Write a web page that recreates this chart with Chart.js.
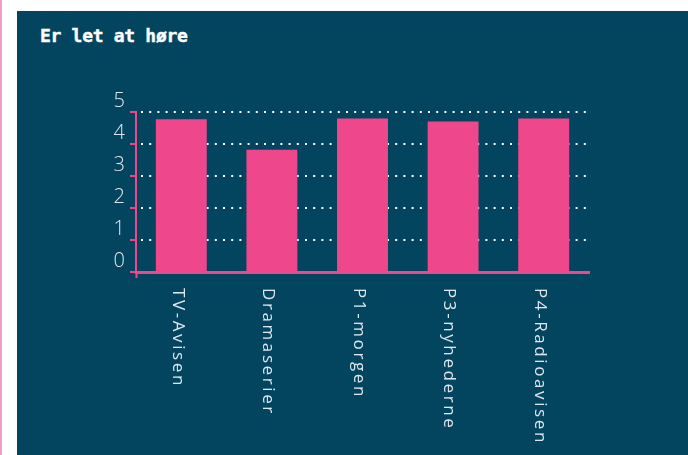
<!DOCTYPE html>
<html>
<head>
<meta charset="utf-8">
<script src="https://cdn.jsdelivr.net/npm/chart.js@4"></script>
<style>
  html, body { margin: 0; padding: 0; background: #ffffff; width: 688px; height: 455px; overflow: hidden; }
  #edge { position: absolute; left: 0; top: 0; width: 2px; height: 455px; background: #f59cc5; }
  #panel { position: absolute; left: 17px; top: 11px; width: 671px; height: 444px; background: #03445f; }
  #title { position: absolute; left: 40px; top: 26px; font-family: "DejaVu Sans Mono", monospace; font-weight: bold;
           font-size: 18px; letter-spacing: -0.3px; line-height: 20px; color: #ffffff; white-space: nowrap;
           -webkit-text-stroke: 0.4px #ffffff; }
  #c { position: absolute; left: 0; top: 0; }
</style>
</head>
<body>
<div id="edge"></div>
<div id="panel"></div>
<div id="title">Er let at høre</div>
<canvas id="c" width="688" height="455"></canvas>
<script>
const categories = ['TV-Avisen', 'Dramaserier', 'P1-morgen', 'P3-nyhederne', 'P4-Radioavisen'];
const values = [4.77, 3.82, 4.8, 4.7, 4.8];
const yMin = 0, yMax = 5, yStep = 1;

const PINK = '#ef478b';
const LABEL = '#dde8ee';

const rotatedLabels = {
  id: 'rotatedLabels',
  afterDraw(chart) {
    const xs = chart.scales.x;
    const ctx = chart.ctx;
    ctx.save();
    ctx.font = '400 17px "Open Sans"';
    ctx.fillStyle = LABEL;
    if ('letterSpacing' in ctx) ctx.letterSpacing = '2.6px';
    ctx.textAlign = 'left';
    ctx.textBaseline = 'alphabetic';
    categories.forEach((c, i) => {
      const x = xs.getPixelForValue(i);
      ctx.save();
      ctx.translate(x, xs.top + 16);
      ctx.rotate(Math.PI / 2);
      ctx.fillText(c, 0, 8.8);
      ctx.restore();
    });
    ctx.restore();
  }
};

new Chart(document.getElementById('c'), {
  type: 'bar',
  data: {
    labels: categories,
    datasets: [{
      data: values,
      backgroundColor: PINK,
      borderWidth: 0,
      categoryPercentage: 1,
      barPercentage: 0.562
    }]
  },
  options: {
    responsive: false,
    animation: false,
    layout: { padding: { top: 112, right: 99, left: 0, bottom: 0 } },
    plugins: { legend: { display: false }, tooltip: { enabled: false }, title: { display: false } },
    scales: {
      x: {
        afterFit: (s) => { s.height = 183; },
        ticks: { display: false },
        grid: {
          drawOnChartArea: false,
          drawTicks: true,
          tickLength: 6,
          tickWidth: 2,
          tickColor: (c) => c.index === 0 ? PINK : 'rgba(0,0,0,0)'
        },
        border: { display: true, color: PINK, width: 3 }
      },
      y: {
        min: yMin,
        max: yMax,
        afterFit: (s) => { s.width = 136; },
        ticks: {
          stepSize: yStep,
          color: LABEL,
          font: { family: '"Open Sans"', size: 20, weight: '300' },
          padding: 5,
          labelOffset: -11
        },
        grid: {
          color: (c) => (c.tick && c.tick.value === 0) ? 'rgba(0,0,0,0)' : '#ffffff',
          lineWidth: 2,
          drawTicks: true,
          tickLength: 6,
          tickWidth: 2,
          tickColor: PINK
        },
        border: { display: true, color: PINK, width: 2, dash: [2, 6.2], dashOffset: -4 }
      }
    }
  },
  plugins: [rotatedLabels]
});
</script>
</body>
</html>
